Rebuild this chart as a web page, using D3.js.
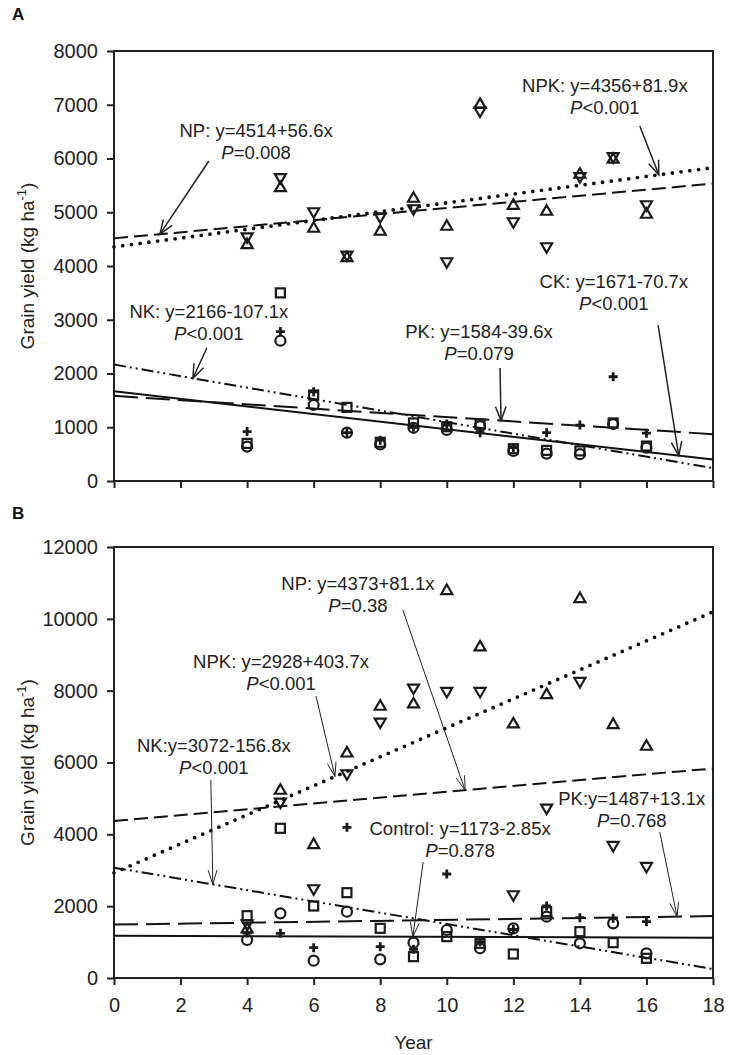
<!DOCTYPE html>
<html><head><meta charset="utf-8">
<script src="https://cdn.jsdelivr.net/npm/d3@7"></script>
<style>body{margin:0;background:#fff} text{font-family:"Liberation Sans",Arial,sans-serif;fill:#222}</style>
</head><body><svg id="c" width="730" height="1055"></svg>
<script>
// ---------- data ----------
const years = [4,5,6,7,8,9,10,11,12,13,14,15,16];
const xTicks = [0,2,4,6,8,10,12,14,16,18];
const yTicksA = [0,1000,2000,3000,4000,5000,6000,7000,8000];
const yTicksB = [0,2000,4000,6000,8000,10000,12000];

// Panel A
const aNPK = [4420,5480,4726,4180,4670,5284,4763,7030,5153,5042,5730,6010,4986]; // up triangle
const aNP  = [4520,5620,4986,4180,4893,5042,4056,6860,4800,4335,5640,6010,5116]; // down triangle
const aNK  = [700,3500,1600,1370,720,1080,1010,1060,600,570,560,1080,650];        // square
const aPK  = [920,2780,1660,900,760,1000,1060,900,620,900,1040,1940,890];         // plus
const aCK  = [640,2610,1414,900,680,990,950,1020,560,510,500,1060,620];           // circle

// Panel B
const bNPK = [1400,5262,3750,6300,7601,7665,10822,9253,7109,7926,10600,7091,6487];
const bNP  = [1476,4863,2450,5652,7091,8038,7944,7944,2283,4696,8222,3656,3071];
const bNK  = [1735,4168,2005,2376,1383,594,1151,966,668,1847,1290,984,548];
const bPK  = [1250,1244,845,4195,873,800,2896,1012,1350,2005,1680,1661,1568];
const bCtl = [1058,1800,483,1847,520,984,1336,827,1383,1707,966,1522,687];

// regression fits: intercept, slope, P text
const fitNamesA = ["NP","NPK","NK","PK","CK"];
const fitIntA   = [4514,4356,2166,1584,1671];
const fitSlopeA = [56.6,81.9,-107.1,-39.6,-70.7];
const fitPA     = ["=0.008","<0.001","<0.001","=0.079","<0.001"];
const fitLabelA = ["NP: y=4514+56.6x","NPK: y=4356+81.9x","NK: y=2166-107.1x","PK: y=1584-39.6x","CK: y=1671-70.7x"];

const fitNamesB = ["NP","NPK","NK","PK","Control"];
const fitIntB   = [4373,2928,3072,1487,1173];
const fitSlopeB = [81.1,403.7,-156.8,13.1,-2.85];
const fitPB     = ["=0.38","<0.001","<0.001","=0.768","=0.878"];
const fitLabelB = ["NP: y=4373+81.1x","NPK: y=2928+403.7x","NK:y=3072-156.8x","PK:y=1487+13.1x","Control: y=1173-2.85x"];

// ---------- layout (annotation anchors in data units) ----------
const annA = [ // text center year, baseline value, arrow start year/value, arrow end year
  {tx:4.27, ty:6400, sx:2.85, sy:5953, ex:1.38},
  {tx:14.75,ty:7237, sx:15.8, sy:6605, ex:16.37},
  {tx:2.85, ty:3033, sx:2.79, sy:2474, ex:2.37},
  {tx:10.97,ty:2660, sx:11.6, sy:2102, ex:11.63},
  {tx:15.02,ty:3591, sx:16.35,sy:2902, ex:16.97}
];
const annB = [
  {tx:7.33, ty:10803, sx:8.68, sy:10246, ex:10.55},
  {tx:5.02, ty:8631,  sx:6.07, sy:7851,  ex:6.64},
  {tx:3.0,  ty:6292,  sx:2.91, sy:5513,  ex:2.97},
  {tx:15.56,ty:4817,  sx:16.4, sy:4065,  ex:16.92},
  {tx:10.4, ty:3981,  sx:9.29, sy:3230,  ex:8.98}
];

const lineStyles = {
  NP:{dash:"14,6",w:2,cap:"butt"},
  NPK:{dash:"0,8.8",w:3.8,cap:"round"},
  NK:{dash:"12,4,2,4,2,4",w:2,cap:"butt"},
  PK:{dash:"24,8",w:2,cap:"butt"},
  CK:{dash:null,w:2,cap:"butt"},
  Control:{dash:null,w:2,cap:"butt"}
};

const svg = d3.select("#c");
const X0 = 114, X1 = 713;

function marker(g, kind, cx, cy){
  const s = 11, h = 9.5, sw = 2.2, col = "#1a1a1a";
  if(kind==="up"){
    g.append("path").attr("d",`M${cx},${cy-h/2}L${cx+s/2},${cy+h/2}L${cx-s/2},${cy+h/2}Z`)
     .attr("fill","none").attr("stroke",col).attr("stroke-width",sw).attr("stroke-linejoin","miter");
  } else if(kind==="down"){
    g.append("path").attr("d",`M${cx},${cy+h/2}L${cx+s/2},${cy-h/2}L${cx-s/2},${cy-h/2}Z`)
     .attr("fill","none").attr("stroke",col).attr("stroke-width",sw).attr("stroke-linejoin","miter");
  } else if(kind==="square"){
    g.append("rect").attr("x",cx-4.5).attr("y",cy-4.5).attr("width",9).attr("height",9)
     .attr("fill","none").attr("stroke",col).attr("stroke-width",sw);
  } else if(kind==="circle"){
    g.append("circle").attr("cx",cx).attr("cy",cy).attr("r",5)
     .attr("fill","none").attr("stroke",col).attr("stroke-width",sw);
  } else if(kind==="plus"){
    g.append("path").attr("d",`M${cx-4.5},${cy}H${cx+4.5}M${cx},${cy-4.5}V${cy+4.5}`)
     .attr("stroke",col).attr("stroke-width",2.8);
  }
}

function panel(cfg){
  const x = d3.scaleLinear([0,18],[X0,X1]);
  const y = d3.scaleLinear(cfg.yDomain,[cfg.bottom,cfg.top]);
  const g = svg.append("g");

  // panel letter
  g.append("text").attr("x",12).attr("y",cfg.letterY).text(cfg.letter)
    .attr("font-size",17).attr("font-weight","bold").style("fill","#111");

  // y axis
  const ya = g.append("g").attr("transform",`translate(${X0},0)`)
    .call(d3.axisLeft(y).tickValues(cfg.yTicks).tickSize(7).tickPadding(9).tickSizeOuter(0).tickFormat(d3.format("d")));
  ya.select(".domain").remove();
  ya.selectAll(".tick line").attr("stroke","#222").attr("stroke-width",2);
  ya.selectAll(".tick text").attr("font-size",20).attr("font-family","Liberation Sans, Arial, sans-serif").style("fill","#222");

  // x axis
  const xa = g.append("g").attr("transform",`translate(0,${cfg.bottom})`)
    .call(d3.axisBottom(x).tickValues(xTicks).tickSize(7).tickPadding(13).tickSizeOuter(0)
      .tickFormat(cfg.xLabels ? d3.format("d") : ""));
  xa.select(".domain").remove();
  xa.selectAll(".tick line").attr("stroke","#222").attr("stroke-width",2);
  xa.selectAll(".tick text").attr("font-size",20).attr("font-family","Liberation Sans, Arial, sans-serif").style("fill","#222");

  // frame
  g.append("rect").attr("x",X0).attr("y",cfg.top).attr("width",X1-X0).attr("height",cfg.bottom-cfg.top)
    .attr("fill","none").attr("stroke","#222").attr("stroke-width",2);

  // y title
  const yt = g.append("text").attr("transform",`translate(34,${(cfg.top+cfg.bottom)/2}) rotate(-90)`)
    .attr("text-anchor","middle").attr("font-size",19);
  yt.append("tspan").text("Grain yield (kg ha");
  yt.append("tspan").text("-1").attr("font-size",13).attr("dy",-8);
  yt.append("tspan").text(")").attr("dy",8);

  // regression lines
  const line = d3.line().x(d=>x(d[0])).y(d=>y(d[1]));
  cfg.fitNames.forEach((n,i)=>{
    const st = lineStyles[n];
    const pts = [0,18].map(t=>[t, cfg.fitInt[i]+cfg.fitSlope[i]*t]);
    const p = g.append("path").attr("d",line(pts)).attr("fill","none")
      .attr("stroke","#111").attr("stroke-width",st.w).attr("stroke-linecap",st.cap);
    if(st.dash) p.attr("stroke-dasharray",st.dash);
  });

  // markers
  const series = [[cfg.up,"up"],[cfg.down,"down"],[cfg.sq,"square"],[cfg.circ,"circle"],[cfg.plus,"plus"]];
  const mg = g.append("g");
  series.forEach(([vals,kind])=>{
    vals.forEach((v,i)=>marker(mg,kind,x(years[i]),y(v)));
  });

  // annotations
  cfg.ann.forEach((a,i)=>{
    const tx = x(a.tx), ty = y(a.ty);
    g.append("text").attr("x",tx).attr("y",ty).attr("text-anchor","middle").attr("font-size",18.5)
      .text(cfg.fitLabel[i]);
    const t2 = g.append("text").attr("x",tx).attr("y",ty+22).attr("text-anchor","middle").attr("font-size",18.5);
    t2.append("tspan").text("P").attr("font-style","italic");
    t2.append("tspan").text(cfg.fitP[i]);
    const sx = x(a.sx), sy = y(a.sy);
    const ex = x(a.ex), ey = y(cfg.fitInt[i]+cfg.fitSlope[i]*a.ex);
    g.append("line").attr("x1",sx).attr("y1",sy).attr("x2",ex).attr("y2",ey)
      .attr("stroke","#222").attr("stroke-width",cfg.arrowW);
    const th = Math.atan2(ey-sy, ex-sx), L = cfg.headL, ph = cfg.headA;
    const p1 = [ex - L*Math.cos(th-ph), ey - L*Math.sin(th-ph)];
    const p2 = [ex - L*Math.cos(th+ph), ey - L*Math.sin(th+ph)];
    g.append("path").attr("d",`M${p1[0]},${p1[1]}L${ex},${ey}L${p2[0]},${p2[1]}`)
      .attr("fill","none").attr("stroke","#222").attr("stroke-width",cfg.arrowW);
  });
}

panel({letter:"A", letterY:20, top:51, bottom:481, yDomain:[0,8000], yTicks:yTicksA, xLabels:false,
  fitNames:fitNamesA, fitInt:fitIntA, fitSlope:fitSlopeA, fitP:fitPA, fitLabel:fitLabelA, ann:annA,
  up:aNPK, down:aNP, sq:aNK, circ:aCK, plus:aPK, arrowW:1.5, headL:15, headA:0.36});

panel({letter:"B", letterY:519, top:547, bottom:978, yDomain:[0,12000], yTicks:yTicksB, xLabels:true,
  fitNames:fitNamesB, fitInt:fitIntB, fitSlope:fitSlopeB, fitP:fitPB, fitLabel:fitLabelB, ann:annB,
  up:bNPK, down:bNP, sq:bNK, circ:bCtl, plus:bPK, arrowW:1, headL:15, headA:0.3});

svg.append("text").attr("x",(X0+X1)/2).attr("y",1049).attr("text-anchor","middle").attr("font-size",19).text("Year");
</script></body></html>
